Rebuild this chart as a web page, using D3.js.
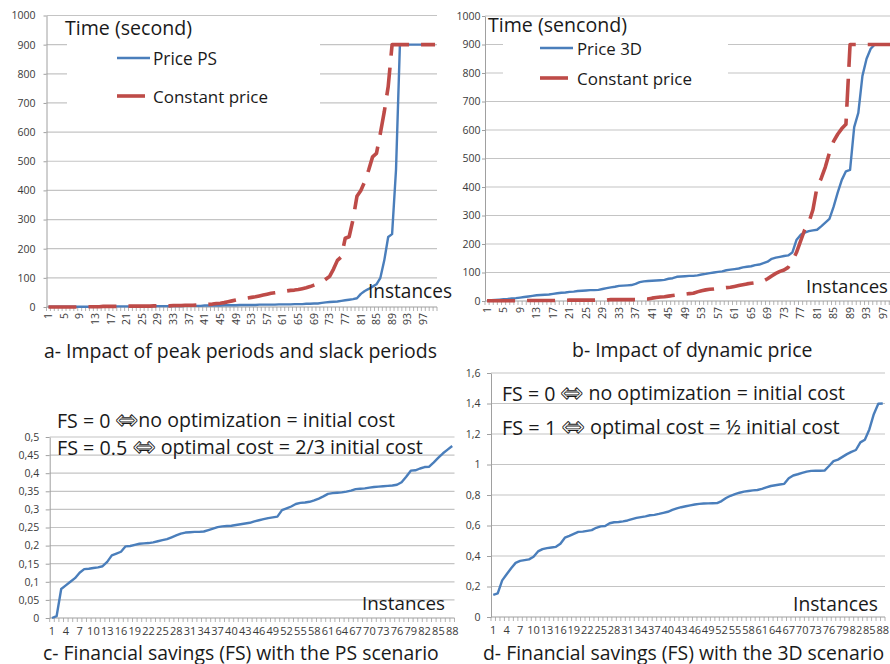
<!DOCTYPE html>
<html><head><meta charset="utf-8">
<script src="https://cdn.jsdelivr.net/npm/d3@7"></script>
<style>body{margin:0;background:#fff}svg{display:block;font-family:"Open Sans",sans-serif}</style>
</head><body>
<svg id="chart" width="890" height="664"></svg>
<script>
// ---------------- DATA ----------------
const instances100 = d3.range(1, 101);
const instances88 = d3.range(1, 89);
const xTickLabelsTime = [1,5,9,13,17,21,25,29,33,37,41,45,49,53,57,61,65,69,73,77,81,85,89,93,97];
const xTickLabelsFS = [1,4,7,10,13,16,19,22,25,28,31,34,37,40,43,46,49,52,55,58,61,64,67,70,73,76,79,82,85,88];
const yTicksTime = [0,100,200,300,400,500,600,700,800,900,1000];
const yTicksFSc = [0,0.05,0.1,0.15,0.2,0.25,0.3,0.35,0.4,0.45,0.5];
const yTickLabelsFSc = ["0","0,05","0,1","0,15","0,2","0,25","0,3","0,35","0,4","0,45","0,5"];
const yTicksFSd = [0,0.2,0.4,0.6,0.8,1,1.2,1.4,1.6];
const yTickLabelsFSd = ["0","0,2","0,4","0,6","0,8","1","1,2","1,4","1,6"];

// a- time (s), Price PS vs constant price
const timePricePS = [
 1,1,1,1,1,1,1,1,1,1, 1,1,1,1,1,2,2,2,2,2, 2,2,2,2,2,3,3,3,3,3, 3,3,3,3,3,4,4,4,4,4,
 5,5,5,5,5,6,6,6,6,7, 7,7,7,7,8,8,8,8,8,9, 9,9,9,10,10,10,11,11,12,12,
 14,16,17,18,19,21,23,25,27,30, 45,55,62,70,78,100,160,240,250,470,
 900,900,900,900,900,900,900,900,900,900];
const timeConstantA = [
 0,0,0,0,0,0,0,0,1,1, 1,1,1,1,2,2,2,2,2,2, 3,3,3,3,3,3,3,4,4,4, 4,4,5,5,5,6,6,6,7,7,
 8,9,10,12,13,15,18,21,24,27, 29,31,33,35,38,41,44,47,49,51, 53,55,57,58,60,63,66,70,75,80,
 85,95,105,130,160,172,236,241,300,380, 400,430,470,515,527,596,670,756,900,900,
 900,900,900,900,900,900,900,900,900,900];

// b- time (s), Price 3D vs constant price
const timePrice3D = [
 2,3,4,5,6,7,9,10,12,14, 16,18,20,21,22,23,25,27,29,30, 32,33,35,36,37,38,38,39,42,45,
 48,50,53,54,55,56,60,66,69,70, 71,72,73,74,78,80,85,86,87,88, 88,90,93,95,98,100,102,104,108,110,
 112,114,118,120,122,126,128,133,138,148, 152,155,158,160,170,214,232,240,245,248,
 250,262,275,288,330,380,425,455,460,610, 660,790,850,885,900,900,900,900,900,900];
const timeConstantB = [
 1,1,1,1,1,1,1,1,1,1, 2,2,2,2,2,2,2,2,2,2, 3,3,3,3,3,3,3,3,3,3, 5,5,5,5,5,5,5,5,7,7,
 10,12,14,15,17,19,21,23,24,26, 27,32,36,39,41,42,44,45,47,48, 51,54,57,60,62,64,66,70,78,88,
 97,104,109,118,140,170,210,250,275,320, 400,430,470,520,560,585,605,620,900,900,
 900,900,900,900,900,900,900,900,900,900];

// c- financial savings, PS scenario
const savingsPS = [
 0,0.005,0.08,0.09,0.1,0.11,0.125,0.135,0.136,0.138, 0.14,0.143,0.155,0.173,0.178,0.183,0.198,0.199,0.202,0.205,
 0.206,0.207,0.209,0.212,0.215,0.218,0.223,0.228,0.233,0.236, 0.237,0.238,0.238,0.239,0.243,0.247,0.251,0.253,0.254,0.255,
 0.257,0.259,0.261,0.263,0.267,0.27,0.273,0.276,0.278,0.28, 0.298,0.303,0.308,0.315,0.318,0.319,0.321,0.325,0.33,0.336,
 0.343,0.345,0.346,0.347,0.349,0.352,0.356,0.357,0.358,0.36, 0.362,0.363,0.364,0.365,0.366,0.368,0.375,0.39,0.407,0.408,
 0.413,0.417,0.418,0.43,0.443,0.455,0.465,0.475];

// d- financial savings, 3D scenario
const savings3D = [
 0.145,0.155,0.24,0.28,0.32,0.355,0.368,0.373,0.378,0.395, 0.43,0.445,0.452,0.456,0.46,0.48,0.52,0.532,0.545,0.558,
 0.56,0.565,0.57,0.585,0.594,0.597,0.615,0.621,0.623,0.627, 0.633,0.642,0.65,0.655,0.66,0.667,0.67,0.676,0.683,0.69,
 0.702,0.712,0.72,0.726,0.732,0.738,0.742,0.744,0.745,0.746, 0.747,0.76,0.78,0.795,0.805,0.815,0.822,0.826,0.83,0.833,
 0.84,0.85,0.859,0.864,0.869,0.873,0.91,0.928,0.936,0.945, 0.953,0.958,0.959,0.959,0.96,0.99,1.022,1.032,1.05,1.068,
 1.083,1.095,1.145,1.162,1.23,1.33,1.398,1.4];

// ---------------- STYLE ----------------
const BLUE = "#4a7ebb", RED = "#be4b48", GRID = "#c4c4c4", AXIS = "#a0a0a0", TXT = "#1a1a1a", TICKTXT = "#3a3a3a";
const svg = d3.select("#chart");

function fitText(g, str, x, cy, width, size) {
  const t = g.append("text").attr("x", x).attr("y", cy)
    .attr("dominant-baseline", "central").attr("fill", TXT).style("font-size", size + "px");
  const parts = str.split("\u21D4");
  parts.forEach((p, i) => {
    if (i > 0) {
      t.append("tspan").text("\u21D4").style("font-family", "'DejaVu Sans'").style("font-size", "1.4em")
        .attr("fill", "#fff").attr("stroke", TXT).attr("stroke-width", 0.9).attr("dy", "-0.02em");
      t.append("tspan").text("").attr("dy", "0.02em");
    }
    t.append("tspan").text(p);
  });
  if (width) {
    const w = t.node().getComputedTextLength();
    t.style("font-size", (size * width / w) + "px");
  }
  return t;
}

function panel(cfg) {
  const g = svg.append("g");
  const x = d3.scaleBand().domain(cfg.cats).range([cfg.x0, cfg.x1]).padding(0);
  const bw = x.bandwidth();
  const y = d3.scaleLinear().domain([cfg.yTicks[0], cfg.yTicks[cfg.yTicks.length - 1]]).range([cfg.yBottom, cfg.yTop]);

  g.append("g").selectAll("line").data(cfg.yTicks.filter(v => v !== 0)).join("line")
    .attr("x1", cfg.x0).attr("x2", cfg.x1).attr("y1", d => y(d)).attr("y2", d => y(d))
    .attr("stroke", GRID).attr("stroke-width", 1.2);

  const ya = g.append("g").attr("transform", `translate(${cfg.x0},0)`)
    .call(d3.axisLeft(y).tickValues(cfg.yTicks).tickFormat((d, i) => cfg.yLabels[i])
      .tickSize(cfg.yTickSize).tickSizeOuter(0).tickPadding(cfg.yPad));
  ya.select(".domain").attr("stroke", AXIS);
  ya.selectAll(".tick line").attr("stroke", AXIS);
  ya.selectAll(".tick text").attr("fill", TICKTXT).style("font-size", cfg.yFont + "px").style("font-family", "'Open Sans'");

  const xa = g.append("g").attr("transform", `translate(0,${cfg.yBottom})`);
  xa.append("line").attr("x1", cfg.x0).attr("x2", cfg.x1).attr("stroke", AXIS).attr("stroke-width", 1.2);
  xa.selectAll("line.t").data(cfg.cats.concat(["__end"])).join("line").attr("class", "t")
    .attr("x1", d => d === "__end" ? cfg.x1 : x(d)).attr("x2", d => d === "__end" ? cfg.x1 : x(d))
    .attr("y1", 0).attr("y2", 4).attr("stroke", AXIS).attr("stroke-width", 0.8);
  const xl = g.append("g").attr("transform", `translate(0,${cfg.yBottom})`)
    .call(d3.axisBottom(x).tickValues(cfg.xLabels).tickSize(0).tickPadding(cfg.xPad));
  xl.select(".domain").remove();
  const xt = xl.selectAll(".tick text").attr("fill", TICKTXT).style("font-size", cfg.xFont + "px").style("font-family", "'Open Sans'");
  if (cfg.rotate) {
    xt.attr("transform", "rotate(-90)").attr("text-anchor", "end").attr("dy", "0.35em")
      .attr("x", -cfg.xPad).attr("y", 0);
  }

  if (cfg.box) {
    g.append("rect").attr("x", cfg.box[0]).attr("y", cfg.box[1]).attr("width", cfg.box[2]).attr("height", cfg.box[3]).attr("fill", "#fff");
  }

  cfg.series.forEach(s => {
    const line = d3.line().x((d, i) => x(cfg.cats[i]) + bw / 2).y(d => y(d));
    g.append("path").datum(s.values).attr("d", line).attr("fill", "none")
      .attr("stroke", s.color).attr("stroke-width", s.width).attr("stroke-linejoin", "round")
      .attr("stroke-dasharray", s.dash || null);
  });
  return g;
}

// ---------- panel a ----------
const gA = panel({
  cats: instances100, x0: 46.5, x1: 437, yBottom: 307, yTop: 15.5,
  yTicks: yTicksTime, yLabels: yTicksTime.map(String), yTickSize: 3, yPad: 8, yFont: 10.5,
  xLabels: xTickLabelsTime, xPad: 6, xFont: 10.5, rotate: true,
  box: [67, 17, 253, 98],
  series: [
    { values: timePricePS, color: BLUE, width: 2.4 },
    { values: timeConstantA, color: RED, width: 3.6, dash: "28,12" }
  ]
});
fitText(gA, "Time (second)", 65, 27, 127, 18);
gA.append("line").attr("x1", 117).attr("x2", 150).attr("y1", 58).attr("y2", 58).attr("stroke", BLUE).attr("stroke-width", 2.4);
fitText(gA, "Price PS", 153, 58, 64, 16);
gA.append("line").attr("x1", 117).attr("x2", 145).attr("y1", 96).attr("y2", 96).attr("stroke", RED).attr("stroke-width", 3.6);
fitText(gA, "Constant price", 153, 96, 115, 16);
fitText(gA, "Instances", 368, 291, 84, 17);
const titleA = fitText(gA, "a- Impact of peak periods and slack periods", 44, 350, 393, 18);

// ---------- panel b ----------
const gB = panel({
  cats: instances100, x0: 485, x1: 897.5, yBottom: 301, yTop: 16,
  yTicks: yTicksTime, yLabels: yTicksTime.map(String), yTickSize: 3, yPad: 1.5, yFont: 10.5,
  xLabels: xTickLabelsTime, xPad: 6, xFont: 10.5, rotate: true,
  box: [503, 17, 225, 78],
  series: [
    { values: timePrice3D, color: BLUE, width: 2.4 },
    { values: timeConstantB, color: RED, width: 3.6, dash: "28,12" }
  ]
});
fitText(gB, "Time (sencond)", 488, 24, 139, 18);
gB.append("line").attr("x1", 540).attr("x2", 573).attr("y1", 48).attr("y2", 48).attr("stroke", BLUE).attr("stroke-width", 2.4);
fitText(gB, "Price 3D", 577, 48, 65, 16);
gB.append("line").attr("x1", 540).attr("x2", 568).attr("y1", 78).attr("y2", 78).attr("stroke", RED).attr("stroke-width", 3.6);
fitText(gB, "Constant price", 577, 78, 115, 16);
fitText(gB, "Instances", 806, 285, 82, 17);
fitText(gB, "b- Impact of dynamic price", 572, 349, null, parseFloat(titleA.style("font-size")));

// ---------- panel c ----------
const gC = panel({
  cats: instances88, x0: 49.7, x1: 454.5, yBottom: 618, yTop: 437,
  yTicks: yTicksFSc, yLabels: yTickLabelsFSc, yTickSize: 4, yPad: 6.5, yFont: 10.5,
  xLabels: xTickLabelsFS, xPad: 9, xFont: 11, rotate: false,
  series: [{ values: savingsPS, color: BLUE, width: 2.4 }]
});
fitText(gC, "FS = 0 \u21D4no optimization = initial cost", 57, 420, 338, 18);
fitText(gC, "FS = 0.5 \u21D4 optimal cost = 2/3 initial cost", 57, 447, 366, 18);
fitText(gC, "Instances", 362, 603, 83, 17);
const titleC = fitText(gC, "c- Financial savings (FS) with the PS scenario", 43, 652, 396, 18);

// ---------- panel d ----------
const gD = panel({
  cats: instances88, x0: 491, x1: 885, yBottom: 617, yTop: 373,
  yTicks: yTicksFSd, yLabels: yTickLabelsFSd, yTickSize: 4, yPad: 6.5, yFont: 10.5,
  xLabels: xTickLabelsFS, xPad: 9, xFont: 11, rotate: false,
  series: [{ values: savings3D, color: BLUE, width: 2.4 }]
});
fitText(gD, "FS = 0 \u21D4 no optimization = initial cost", 502, 393, 343, 18);
fitText(gD, "FS = 1 \u21D4 optimal cost = \u00BD initial cost", 502, 427, 338, 18);
fitText(gD, "Instances", 793, 603, 85, 17);
fitText(gD, "d- Financial savings (FS) with the 3D scenario", 483, 652, null, parseFloat(titleC.style("font-size")));
</script>
</body></html>
